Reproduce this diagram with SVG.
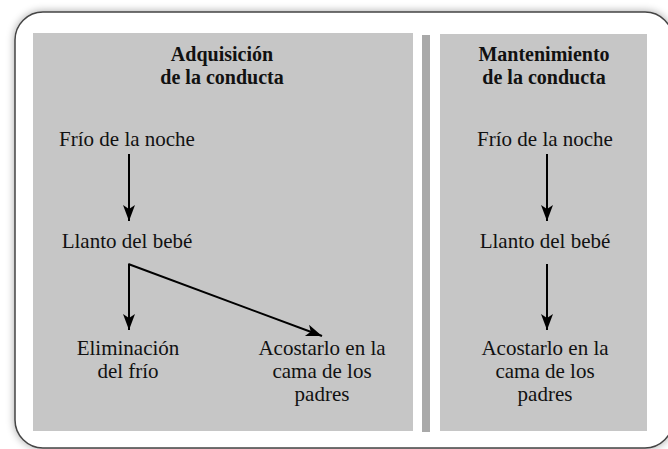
<svg xmlns="http://www.w3.org/2000/svg" width="668" height="449" viewBox="0 0 668 449">
<style>
.t{font-family:"Liberation Serif","Times New Roman",serif;font-size:21px;fill:#111;text-anchor:middle}
.h{font-weight:bold;font-size:20px}
.ln{stroke:#000;stroke-width:2;fill:none}
</style>
<defs>
<filter id="sh" x="-5%" y="-5%" width="110%" height="110%">
<feGaussianBlur in="SourceAlpha" stdDeviation="4"/>
<feComponentTransfer><feFuncA type="linear" slope="0.35"/></feComponentTransfer>
<feMerge><feMergeNode/><feMergeNode in="SourceGraphic"/></feMerge>
</filter>
<marker id="ah" markerUnits="userSpaceOnUse" markerWidth="18" markerHeight="14" refX="16" refY="6" orient="auto" viewBox="0 0 18 14">
<path d="M0,0 L16,6 L0,12 L4,6 z" fill="#000"/>
</marker>
</defs>
<rect x="15" y="12" width="658" height="436" rx="28" ry="28" fill="#fff" stroke="#444" stroke-width="1.5" filter="url(#sh)"/>
<g id="panels">
<rect x="33" y="33" width="380" height="398" fill="#c6c6c6"/>
<rect x="422" y="35" width="8" height="397" fill="#a9a9a9"/>
<rect x="440" y="34" width="207" height="397" fill="#c6c6c6"/>
</g>
<g id="titles">
<text class="t h" x="222" y="61">Adquisición</text>
<text class="t h" x="222" y="84">de la conducta</text>
<text class="t h" x="544" y="61">Mantenimiento</text>
<text class="t h" x="544" y="84">de la conducta</text>
</g>
<g id="n1"><text class="t" x="127" y="146">Frío de la noche</text></g>
<g id="n2"><text class="t" x="127" y="248">Llanto del bebé</text></g>
<g id="n3"><text class="t" x="128" y="355">Eliminación</text><text class="t" x="128" y="378">del frío</text></g>
<g id="n4"><text class="t" x="322" y="355">Acostarlo en la</text><text class="t" x="322" y="378">cama de los</text><text class="t" x="322" y="401">padres</text></g>
<g id="m1"><text class="t" x="545" y="146">Frío de la noche</text></g>
<g id="m2"><text class="t" x="545" y="248">Llanto del bebé</text></g>
<g id="m3"><text class="t" x="545" y="355">Acostarlo en la</text><text class="t" x="545" y="378">cama de los</text><text class="t" x="545" y="401">padres</text></g>
<g id="connectors">
<line class="ln" x1="129" y1="154" x2="129" y2="221" marker-end="url(#ah)"/>
<line class="ln" stroke-width="1.5" x1="129" y1="264" x2="129" y2="330" marker-end="url(#ah)"/>
<line class="ln" stroke-width="1.5" x1="128.3" y1="264" x2="322" y2="336" marker-end="url(#ah)"/>
<line class="ln" x1="547" y1="154" x2="547" y2="221" marker-end="url(#ah)"/>
<line class="ln" x1="547" y1="264" x2="547" y2="330" marker-end="url(#ah)"/>
</g>
</svg>
